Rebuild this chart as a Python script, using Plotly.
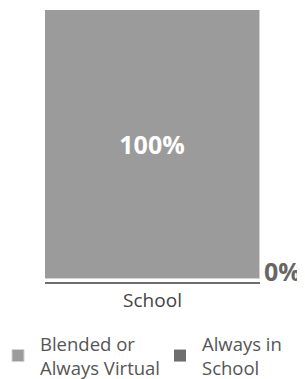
import plotly.graph_objects as go

categories = ["School"]
blended = [100]
always_school = [0]
series_names = ["Blended or<br>Always Virtual", "Always in<br>School"]
colors = ["#9b9b9b", "#6e6e6e"]

FONT = "Open Sans"
# the page body adds an 8px margin, so the figure is 8px smaller
W, H = 297, 371
ML, MR, MT, MB = 37, 45, 2, 97
PW = W - ML - MR
PH = H - MT - MB

def px_to_paper_x(px):
    return (px - ML) / PW

def px_to_paper_y(py):
    return (H - MB - py) / PH

fig = go.Figure()
fig.add_trace(go.Bar(
    x=categories, y=blended, name=series_names[0],
    marker=dict(color=colors[0], line=dict(color="#d2d2d2", width=1)),
    text=[f"<b>{v}%</b>" for v in blended], textposition="inside",
    insidetextanchor="middle",
    textfont=dict(family=FONT, size=25, color="white"),
    width=1, legend="legend",
))
fig.add_trace(go.Bar(
    x=categories, y=always_school, name=series_names[1],
    marker=dict(color=colors[1], line=dict(width=0)),
    width=1, legend="legend2",
))

for c, v in zip(categories, always_school):
    fig.add_annotation(
        x=c, y=v, xref="x", yref="y",
        text=f"<b>{v}%</b>", showarrow=False,
        xanchor="left", yanchor="middle", xshift=109, yshift=8,
        font=dict(family=FONT, size=25, color="#666666"),
    )

leg_common = dict(
    orientation="v", xanchor="left", yanchor="top",
    font=dict(family=FONT, size=18.5, color="#555555"),
    bgcolor="rgba(0,0,0,0)", itemwidth=34,
)

fig.update_layout(
    width=W, height=H,
    barmode="stack",
    margin=dict(l=ML, r=MR, t=MT, b=MB, autoexpand=False),
    paper_bgcolor="white", plot_bgcolor="white",
    font=dict(family=FONT, color="#555555"),
    showlegend=True,
    legend=dict(x=px_to_paper_x(-12), y=px_to_paper_y(317), **leg_common),
    legend2=dict(x=px_to_paper_x(150), y=px_to_paper_y(317), **leg_common),
    bargap=0,
)
fig.update_xaxes(
    range=[-0.5, 0.5],
    showline=True, linecolor="#6e6e6e", linewidth=2,
    tickfont=dict(family=FONT, size=19, color="#444444"),
    ticks="", showgrid=False,
)
fig.update_yaxes(
    range=[-1.2, 100], visible=False, showgrid=False, zeroline=False,
)

fig.write_html("out.html")
